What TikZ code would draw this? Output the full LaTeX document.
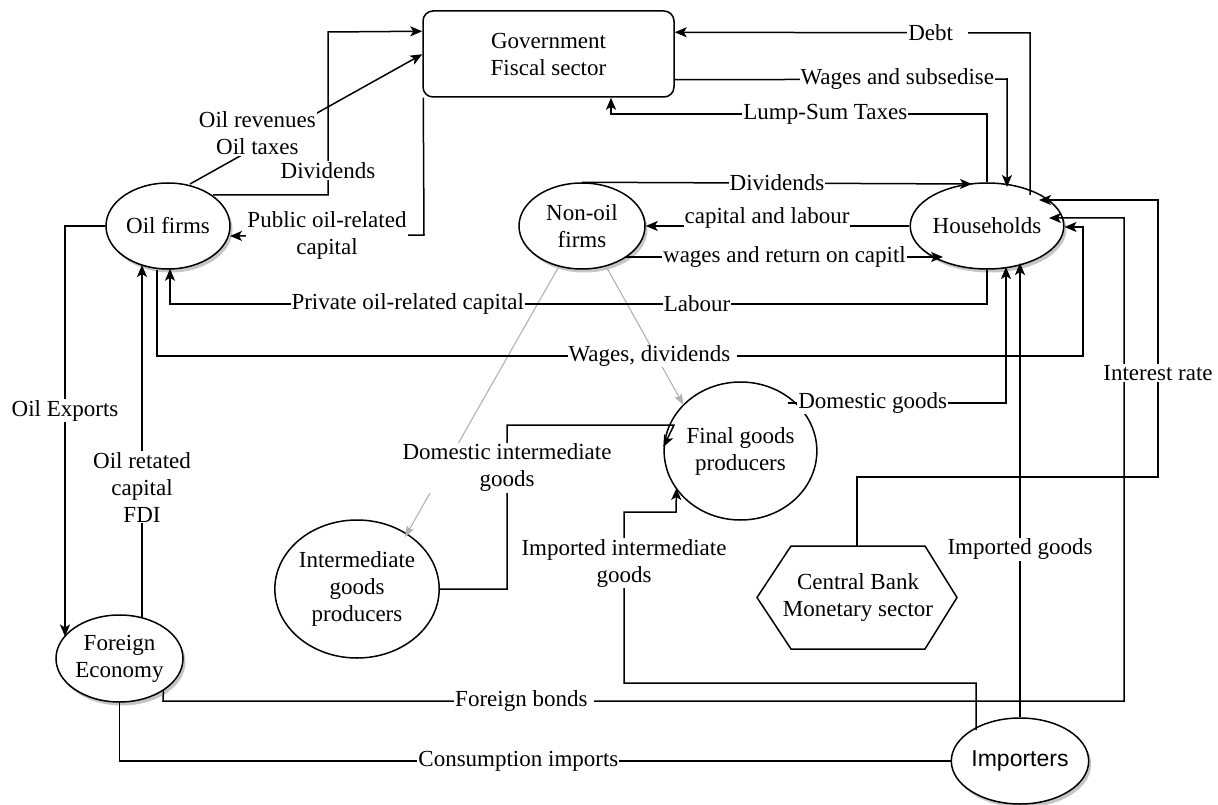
\documentclass[tikz,border=0pt]{standalone}
\usepackage{fontspec}
\setmainfont{Liberation Serif}
\newfontfamily\impfont{Liberation Sans}
\usetikzlibrary{shapes.geometric,arrows.meta,calc,shadows}
\begin{document}
\begin{tikzpicture}[x=1pt,y=-1pt,font=\fontsize{23}{27}\selectfont,
  ent/.style={draw,line width=1.5pt,align=center,inner sep=0pt,fill=white},
  ell/.style={ent,ellipse,drop shadow={shadow xshift=2.5pt,shadow yshift=-3.5pt,fill=black!50,opacity=.45}},
  circ/.style={ent,ellipse,minimum width=134pt,minimum height=138pt},
  ln/.style={line width=1.5pt},
  arr/.style={line width=1.5pt,-{Stealth[length=12pt,width=10pt,inset=3pt]}},
  garr/.style={line width=1.1pt,draw=black!30,-{Stealth[length=11pt,width=8pt,inset=2pt]}},
  lbl/.style={fill=white,inner sep=1pt,align=center}]
\fill[white] (0,0) rectangle (1218,805);
\useasboundingbox (0,0) rectangle (1218,805);

% nodes
\node[ent,rectangle,rounded corners=10pt,minimum width=251pt,minimum height=86pt] (gov) at (548.5,54) {Government\\Fiscal sector};
\node[ell,minimum width=124pt,minimum height=86pt] (oil) at (168,226) {Oil firms};
\node[ell,minimum width=126pt,minimum height=86pt] (nonoil) at (582,226) {Non-oil\\firms};
\node[ell,minimum width=126pt,minimum height=86pt] (hh) at (987,226) {Households};
\node[circ] (fin) at (740.5,451) {Final goods\\producers};
\node[circ] (inter) at (357,589) {Intermediate\\goods\\producers};
\node[ell,minimum width=127pt,minimum height=87pt] (fe) at (119.5,658.5) {Foreign\\Economy};
\node[ell,minimum width=126pt,minimum height=86pt] (imp) at (1020,761) {\impfont Importers};
\node[align=center,inner sep=0pt] (cb) at (858,597.5) {Central Bank\\Monetary sector};
\draw[ln] ($(cb.center)+(-67,-51.5)$) -- ($(cb.center)+(67,-51.5)$) -- ($(cb.center)+(99,0)$)
  -- ($(cb.center)+(67,51.5)$) -- ($(cb.center)+(-67,51.5)$) -- ($(cb.center)+(-101,0)$) -- cycle;
\coordinate (cbtop) at ($(cb.center)+(-1,-51.5)$);

% gray connectors
\draw[garr] ($(nonoil.center)+(-24,42)$) -- ($(inter.center)+(48,-52)$);
\draw[garr] ($(nonoil.center)+(25,42)$) -- ($(fin.center)+(-57,-46)$);

% oil firms -> government
\draw[arr] ($(oil.center)+(45,-31)$) -- (328,195) -- node[lbl,pos=0.15]{Dividends} (328,32) -- ($(gov.north west)+(0,21)$);
\draw[arr] ($(oil.center)+(22,-42)$) -- node[lbl,pos=0.29,yshift=13pt]{Oil revenues\\Oil taxes} ($(gov.north west)+(0,44)$);
\draw[arr] ($(gov.south west)+(1,0)$) -- (424,235) -- node[lbl]{Public oil-related\\capital} ($(oil.center)+(62,10)$);

% government <-> households
\draw[arr] ($(hh.center)+(43,-31)$) -- (1030,33) -- node[lbl,pos=0.26]{Debt\hspace{14pt}} ($(gov.north east)+(0,22)$);
\draw[arr] ($(gov.south east)+(0,-18)$) -- node[lbl,pos=0.67]{Wages and subsedise} (1007,79) -- ($(hh.center)+(20,-39)$);
\draw[arr] (hh.north) -- (987,114) -- node[lbl,pos=0.43]{Lump-Sum Taxes} (611,114) -- ($(gov.south)+(62.5,0)$);

% non-oil firms <-> households
\draw[arr] (nonoil.north) -- node[lbl]{Dividends} ($(hh.center)+(-15,-42)$);
\draw[arr] (hh.west) -- node[lbl,pos=0.54,yshift=8pt]{capital and labour} (nonoil.east);
\draw[arr] ($(nonoil.center)+(44,31)$) -- node[lbl]{wages and return on capitl} ($(hh.center)+(-44,31)$);

% households -> oil firms
\draw[arr] (hh.south) -- (987,304) -- node[lbl,pos=0.355]{Labour} node[lbl,pos=0.709]{Private oil-related capital} (170,304) -- ($(oil.south)+(2,-1)$);
% oil firms -> households
\draw[arr] ($(oil.south)+(-11,0)$) -- (157,356) -- node[lbl,pos=0.535]{Wages, dividends\hspace{6pt}} (1083,356) -- (1083,227) -- ($(hh.east)+(0,1)$);

% goods to households
\draw[arr] (imp.north) -- node[lbl,pos=0.37]{Imported goods} ($(hh.center)+(33,37)$);
\draw[arr] ($(fin.center)+(47,-48)$) -- node[lbl,pos=0.39]{Domestic goods} (1006,403) -- ($(hh.center)+(19,41)$);

% foreign economy
\draw[arr] (oil.west) -- (65,226) -- node[lbl,pos=0.45]{Oil Exports} ($(fe.center)+(-54.5,-22)$);
\draw[arr] ($(fe.center)+(22.5,-41)$) -- node[lbl,pos=0.37]{Oil retated\\capital\\FDI} ($(oil.center)+(-26,39)$);
\draw[ln] (imp.west) -- node[lbl,pos=0.52]{Consumption imports} (119.5,761) -- (fe.south);
\draw[arr] ($(fe.center)+(44,31)$) -- (163,701) -- node[lbl,pos=0.376]{Foreign bonds\hspace{6pt}} (1124,701) -- (1124,218) -- ($(hh.center)+(62,-8)$);

% intermediate goods -> final goods
\draw[arr] (inter.east) -- (507,589) -- node[lbl,pos=0.74]{Domestic intermediate\\goods} (507,425) -- (674,425) -- ($(fin.west)+(0,-4)$);
\draw[arr] ($(imp.center)+(-44,-31)$) -- (976,683) -- (624,683) -- node[lbl,pos=0.70]{Imported intermediate\\goods} (624,512) -- (676,512) -- ($(fin.center)+(-64,37)$);

% central bank -> households
\draw[arr] (cbtop) -- (857,477) -- (1158,477) -- node[lbl,pos=0.375]{Interest rate} (1158,200) -- ($(hh.center)+(52,-26)$);
\end{tikzpicture}
\end{document}
